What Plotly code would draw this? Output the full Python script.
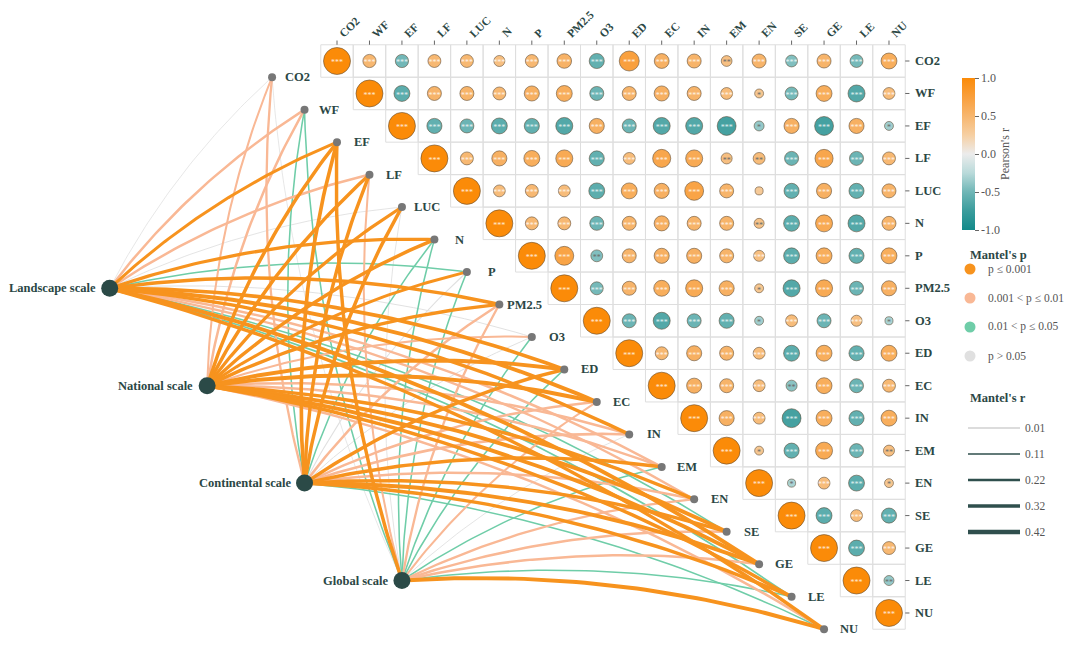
import numpy as np
import plotly.graph_objects as go

variables = ["CO2", "WF", "EF", "LF", "LUC", "N", "P", "PM2.5", "O3",
             "ED", "EC", "IN", "EM", "EN", "SE", "GE", "LE", "NU"]

# Pearson's r, upper triangle, row by row (columns to the right of the diagonal)
r_CO2 = [0.49, -0.49, 0.48, 0.48, 0.41, 0.48, 0.54, -0.56, 0.74, 0.55, 0.52, 0.40, 0.52, -0.44, 0.52, -0.48, 0.59]
r_WF = [-0.59, 0.52, 0.52, 0.48, 0.56, 0.59, -0.52, 0.52, 0.56, 0.52, 0.44, 0.33, -0.48, 0.59, -0.63, 0.44]
r_EF = [-0.56, -0.52, -0.59, -0.56, -0.63, 0.56, -0.52, -0.63, -0.63, -0.70, -0.37, 0.56, -0.70, 0.56, -0.33]
r_LF = [0.48, 0.56, 0.59, 0.63, -0.56, 0.44, 0.67, 0.63, 0.41, 0.44, -0.52, 0.67, -0.52, 0.48]
r_LUC = [0.44, 0.48, 0.44, -0.59, 0.59, 0.56, 0.70, 0.52, 0.30, -0.56, 0.56, -0.56, 0.52]
r_N = [0.48, 0.48, -0.52, 0.52, 0.56, 0.52, 0.52, 0.37, -0.59, 0.63, -0.63, 0.52]
r_P = [0.70, -0.44, 0.52, 0.56, 0.56, 0.52, 0.41, -0.59, 0.59, -0.56, 0.59]
r_PM25 = [-0.48, 0.52, 0.59, 0.63, 0.56, 0.33, -0.63, 0.63, -0.52, 0.56]
r_O3 = [-0.52, -0.63, -0.52, -0.56, -0.33, 0.44, -0.52, 0.41, -0.30]
r_ED = [0.48, 0.56, 0.52, 0.44, -0.59, 0.59, -0.56, 0.59]
r_EC = [0.56, 0.52, 0.44, -0.41, 0.59, -0.52, 0.48]
r_IN = [0.56, 0.44, -0.70, 0.59, -0.56, 0.59]
r_EM = [0.33, -0.56, 0.63, -0.52, 0.41]
r_EN = [-0.30, 0.44, -0.59, 0.33]
r_SE = [-0.59, 0.44, -0.56]
r_GE = [-0.59, 0.48]
r_LE = [-0.37]
r_rows = [r_CO2, r_WF, r_EF, r_LF, r_LUC, r_N, r_P, r_PM25, r_O3,
          r_ED, r_EC, r_IN, r_EM, r_EN, r_SE, r_GE, r_LE, []]

# significance labels that differ from "***"
star_exceptions = {
    ("CO2", "EM"): "**", ("WF", "EN"): "*", ("EF", "EN"): "*", ("EF", "NU"): "*",
    ("LF", "EM"): "**", ("LF", "EN"): "**", ("LUC", "EN"): "", ("N", "EN"): "**",
    ("P", "O3"): "**", ("PM2.5", "EN"): "*", ("O3", "EN"): "*", ("O3", "NU"): "*",
    ("EC", "SE"): "**", ("EM", "EN"): "*", ("EM", "NU"): "**", ("EN", "SE"): "*",
    ("EN", "NU"): "*", ("LE", "NU"): "**",
}

# Mantel test: p category (1: p<=0.001, 2: 0.001<p<=0.01, 3: 0.01<p<=0.05, 4: p>0.05) and Mantel's r
scales = ["Landscape scale", "National scale", "Continental scale", "Global scale"]
landscape_p = [4, 2, 1, 2, 4, 1, 3, 1, 4, 1, 1, 1, 2, 2, 3, 1, 3, 1]
landscape_r = [0.02, 0.20, 0.25, 0.20, 0.03, 0.28, 0.10, 0.30, 0.04, 0.32, 0.35, 0.30, 0.20, 0.18, 0.10, 0.35, 0.12, 0.30]
national_p = [2, 2, 1, 1, 1, 1, 1, 1, 2, 1, 1, 2, 2, 1, 1, 1, 1, 2]
national_r = [0.15, 0.20, 0.30, 0.30, 0.28, 0.30, 0.25, 0.30, 0.15, 0.35, 0.35, 0.20, 0.20, 0.30, 0.35, 0.35, 0.30, 0.20]
continental_p = [2, 3, 1, 1, 1, 3, 4, 2, 4, 1, 2, 2, 1, 2, 1, 1, 1, 3]
continental_r = [0.18, 0.10, 0.32, 0.30, 0.30, 0.10, 0.05, 0.20, 0.04, 0.30, 0.20, 0.22, 0.30, 0.20, 0.30, 0.35, 0.30, 0.10]
global_p = [4, 3, 1, 2, 4, 3, 3, 2, 3, 3, 2, 4, 3, 2, 2, 2, 3, 1]
global_r = [0.02, 0.10, 0.30, 0.15, 0.03, 0.10, 0.10, 0.18, 0.10, 0.10, 0.15, 0.03, 0.10, 0.18, 0.20, 0.20, 0.10, 0.35]
mantel_p = [landscape_p, national_p, continental_p, global_p]
mantel_r = [landscape_r, national_r, continental_r, global_r]

p_labels = ["p \u2264 0.001", "0.001 < p \u2264 0.01", "0.01 < p \u2264 0.05", "p > 0.05"]
r_legend = [0.01, 0.11, 0.22, 0.32, 0.42]
cbar_ticks = [-1.0, -0.5, 0.0, 0.5, 1.0]

# ---------------- styling ----------------
W, H = 1080, 666
OFF = 8          # page margin compensation (pixels)
CELL = 32.47
X0, Y0 = 337, 61  # on-screen pixel position of the CO2 cell centre
SERIF = "Liberation Serif, Times New Roman, serif"
DARK = "#2b4745"
p_colors = {1: "#f7931e", 2: "#f9b895", 3: "#6fcda8", 4: "#e0e0e0"}
colorscale = [[0, "#138a8a"], [0.125, "#3a9c9c"], [0.25, "#6fb6b6"], [0.375, "#b9dada"],
              [0.5, "#ececec"], [0.625, "#f6cfa2"], [0.75, "#f7b66e"], [0.875, "#f99f3c"], [1, "#fb8b08"]]


def px2x(p):
    return (p - X0) / CELL


def py2y(p):
    return (p - Y0) / CELL


def width_of(r):
    return 0.6 + 9.5 * r


def arc(x0, y0, x1, y1, ratio=0.045, n=50):
    dx, dy = x1 - x0, y1 - y0
    L = np.hypot(dx, dy)
    s = ratio * L
    px, py = dy / L, -dx / L
    R = (s ** 2 + (L / 2) ** 2) / (2 * s)
    mx, my = (x0 + x1) / 2, (y0 + y1) / 2
    cx, cy = mx - (R - s) * px, my - (R - s) * py
    a0 = np.arctan2(y0 - cy, x0 - cx)
    a1 = np.arctan2(y1 - cy, x1 - cx)
    da = (a1 - a0 + np.pi) % (2 * np.pi) - np.pi
    ang = a0 + da * np.linspace(0, 1, n)
    return cx + R * np.cos(ang), cy + R * np.sin(ang)


n = len(variables)
fig = go.Figure()
shapes = []
annotations = []

# ---------------- grid cells ----------------
for i in range(n):
    for j in range(i, n):
        shapes.append(dict(type="rect", xref="x", yref="y", x0=j - 0.5, x1=j + 0.5, y0=i - 0.5, y1=i + 0.5,
                           line=dict(color="#dedede", width=1), fillcolor="rgba(0,0,0,0)", layer="below"))

# ---------------- Mantel links ----------------
node_x = [i - 2.0 for i in range(n)]
node_y = [i + 0.5 for i in range(n)]
scale_x = [-7.0 + 3 * k for k in range(len(scales))]
scale_y = [7.0 + 3 * k for k in range(len(scales))]

links = []
for k in range(len(scales)):
    for i in range(n):
        links.append((mantel_p[k][i], mantel_r[k][i], k, i))
links.sort(key=lambda t: -t[0])
for pc, rv, k, i in links:
    xs, ys = arc(scale_x[k], scale_y[k], node_x[i], node_y[i])
    fig.add_trace(go.Scatter(x=xs, y=ys, mode="lines", line=dict(color=p_colors[pc], width=width_of(rv)),
                             hoverinfo="skip", showlegend=False))

# variable nodes
fig.add_trace(go.Scatter(x=node_x, y=node_y, mode="markers", marker=dict(size=8, color="#777777"),
                         hoverinfo="skip", showlegend=False))
for i, v in enumerate(variables):
    annotations.append(dict(x=node_x[i] + 0.77, y=node_y[i], text="<b>%s</b>" % v, showarrow=False,
                            xanchor="center", yanchor="middle", font=dict(family=SERIF, size=12.5, color=DARK)))
# scale nodes
fig.add_trace(go.Scatter(x=scale_x, y=scale_y, mode="markers", marker=dict(size=17, color="#2b4a47"),
                         hoverinfo="skip", showlegend=False))
for k, s in enumerate(scales):
    annotations.append(dict(x=scale_x[k] - 0.36, y=scale_y[k], text="<b>%s</b>" % s, showarrow=False,
                            xanchor="right", yanchor="middle", font=dict(family=SERIF, size=12.5, color=DARK)))

# ---------------- correlation circles ----------------
cx, cy, cr, cs, st_x, st_y, st_t, st_c = [], [], [], [], [], [], [], []
for i in range(n):
    vals = [1.0] + r_rows[i]
    for off, rv in enumerate(vals):
        j = i + off
        cx.append(j)
        cy.append(i)
        cr.append(rv)
        cs.append(27 * abs(rv))
        lab = star_exceptions.get((variables[i], variables[j]), "***")
        st_x.append(j)
        st_y.append(i + 0.07)
        st_t.append(lab)
        st_c.append("rgba(255,255,255,0.85)" if lab == "***" else "#6a6a6a")


def pp(xp, yp):
    return (xp - OFF) / W, 1 - (yp - OFF) / H


cbx, cby = pp(962, 154)
fig.add_trace(go.Scatter(
    x=cx, y=cy, mode="markers",
    marker=dict(size=cs, color=cr, colorscale=colorscale, cmin=-1, cmax=1, opacity=1,
                line=dict(color="rgba(90,72,50,0.8)", width=0.7),
                showscale=True,
                colorbar=dict(x=cbx, xanchor="left", y=cby, yanchor="middle",
                              len=152 / H, lenmode="fraction", thickness=13, outlinewidth=0,
                              xpad=0, ypad=0, ticks="outside", ticklen=4, tickcolor="#666",
                              tickvals=cbar_ticks, ticktext=["%.1f" % t for t in cbar_ticks],
                              tickfont=dict(family=SERIF, size=12, color="#555"),
                              title=dict(text="Pearson's r", side="right",
                                         font=dict(family=SERIF, size=12, color="#555")))),
    hoverinfo="skip", showlegend=False))
fig.add_trace(go.Scatter(x=st_x, y=st_y, mode="text", text=st_t,
                         textfont=dict(family=SERIF, size=8, color=st_c),
                         hoverinfo="skip", showlegend=False))

# ---------------- axis labels & ticks ----------------
for j, v in enumerate(variables):
    shapes.append(dict(type="line", xref="x", yref="y", x0=j, x1=j, y0=-0.5, y1=-0.63,
                       line=dict(color="#666", width=1)))
    annotations.append(dict(x=j - 0.08, y=-0.57, text="<b>%s</b>" % v, showarrow=False, textangle=-45,
                            xanchor="left", yanchor="bottom", font=dict(family=SERIF, size=11.5, color=DARK)))
for i, v in enumerate(variables):
    shapes.append(dict(type="line", xref="x", yref="y", x0=n - 0.5, x1=n - 0.37, y0=i, y1=i,
                       line=dict(color="#666", width=1)))
    annotations.append(dict(x=n - 0.27, y=i, text="<b>%s</b>" % v, showarrow=False,
                            xanchor="left", yanchor="middle", font=dict(family=SERIF, size=12.5, color=DARK)))

# ---------------- legends (paper coords) ----------------
lx, ly = pp(968, 255)
annotations.append(dict(x=lx, y=ly, xref="paper", yref="paper", text="<b>Mantel's p</b>", showarrow=False,
                        xanchor="left", yanchor="middle", font=dict(family=SERIF, size=12.5, color=DARK)))
dot_y = [269, 298, 327, 356]
for idx, lab in enumerate(p_labels):
    ax, ay = pp(970, dot_y[idx])
    fig.add_trace(go.Scatter(x=[ax], y=[ay], xaxis="x2", yaxis="y2", mode="markers",
                             marker=dict(size=11, color=p_colors[idx + 1]), hoverinfo="skip", showlegend=False))
    tx, ty = pp(986, dot_y[idx])
    annotations.append(dict(x=tx, y=ty, xref="paper", yref="paper", text=lab, showarrow=False,
                            xanchor="left", yanchor="middle", font=dict(family=SERIF, size=11.5, color="#555")))

lx, ly = pp(968, 398)
annotations.append(dict(x=lx, y=ly, xref="paper", yref="paper", text="<b>Mantel's r</b>", showarrow=False,
                        xanchor="left", yanchor="middle", font=dict(family=SERIF, size=12.5, color=DARK)))
line_y = [428, 454, 480, 506, 532]
for idx, rv in enumerate(r_legend):
    a0x, a0y = pp(968, line_y[idx])
    a1x, _ = pp(1020, line_y[idx])
    shapes.append(dict(type="line", xref="paper", yref="paper", x0=a0x, x1=a1x, y0=a0y, y1=a0y,
                       line=dict(color="#2f4f4d" if rv > 0.05 else "#9a9a9a", width=width_of(rv))))
    tx, ty = pp(1023, line_y[idx])
    annotations.append(dict(x=tx, y=ty, xref="paper", yref="paper", text="%.2f" % rv, showarrow=False,
                            xanchor="left", yanchor="middle", font=dict(family=SERIF, size=11.5, color="#555")))

fig.update_layout(
    width=W, height=H, margin=dict(l=0, r=0, t=0, b=0, pad=0, autoexpand=False),
    paper_bgcolor="white", plot_bgcolor="white",
    xaxis=dict(range=[px2x(OFF), px2x(W + OFF)], visible=False, fixedrange=True, automargin=False),
    yaxis=dict(range=[py2y(H + OFF), py2y(OFF)], visible=False, fixedrange=True, automargin=False),
    xaxis2=dict(range=[0, 1], visible=False, overlaying="x", domain=[0, 1]),
    yaxis2=dict(range=[0, 1], visible=False, overlaying="y", domain=[0, 1]),
    shapes=shapes, annotations=annotations, showlegend=False,
)

fig.write_html("out.html")
